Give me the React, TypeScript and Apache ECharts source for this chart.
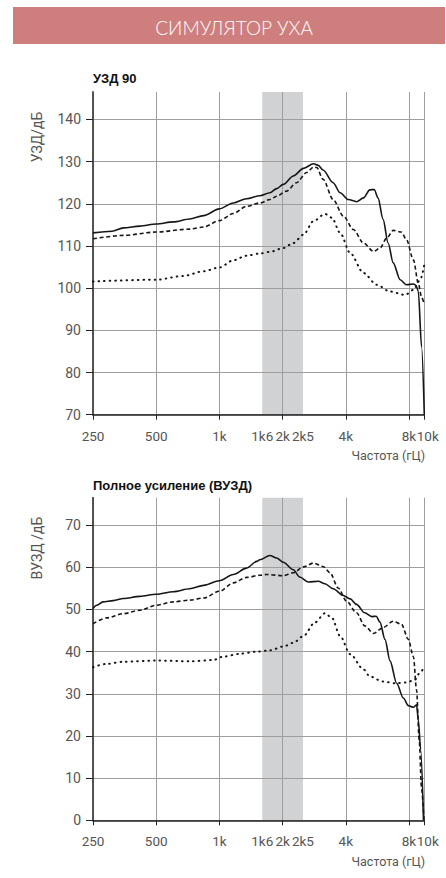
import { useEffect, useRef } from "react";
import * as echarts from "echarts";

// ---- axis definitions ----
const F_MIN = 250;
const F_MAX = 9462; // right edge, labelled "10k"
const TICK_FREQS = [250, 500, 1000, 2000, 4000, 8000, 9462];
const LABEL_FREQS = [250, 500, 1000, 1600, 2000, 2500, 4000, 8000];
const LABEL_TEXTS = ["250", "500", "1k", "1k6", "2k", "2k5", "4k", "8k"];
const EDGE_LABEL = "10k";
const BAND_FREQS = [1600, 2500];
const SPL_TICKS = [70, 80, 90, 100, 110, 120, 130, 140];
const GAIN_TICKS = [0, 10, 20, 30, 40, 50, 60, 70];

// ---- chart 1: УЗД 90 ----
const splSolidF = [250, 308, 349, 418, 500, 603, 722, 841, 1000, 1165, 1347, 1558, 1741, 1874, 2014, 2250, 2514, 2809, 2959, 3117, 3482, 3758, 4113, 4500, 4856, 5205, 5464, 5696, 6021, 6364, 6727, 7260, 7781, 8397, 8633, 8857, 9187, 9462];
const splSolidV = [113.1, 113.5, 114.3, 114.7, 115.2, 115.7, 116.4, 117.2, 118.8, 120.2, 121.2, 121.9, 122.6, 123.6, 124.6, 126.6, 128.4, 129.5, 129.1, 128.0, 125.0, 122.6, 121.0, 120.5, 121.4, 123.3, 123.4, 121.4, 116.3, 110.7, 106.0, 102.0, 100.8, 101.0, 100.7, 99.3, 86.0, 70.0];

const splDashF = [250, 349, 500, 722, 841, 1000, 1165, 1347, 1558, 1741, 1874, 2085, 2330, 2603, 2809, 2908, 3117, 3482, 3891, 4347, 4856, 5426, 5816, 6276, 6727, 7362, 7781, 8397, 8875, 9187, 9462];
const splDashV = [111.7, 112.5, 113.3, 114.0, 114.5, 116.0, 117.7, 119.4, 120.2, 121.0, 121.8, 123.0, 125.0, 127.4, 128.7, 128.6, 125.8, 121.0, 117.1, 113.9, 110.7, 108.7, 109.5, 111.9, 113.7, 113.3, 111.5, 106.7, 101.0, 97.8, 96.2];

const splDotF = [250, 500, 674, 841, 1000, 1165, 1347, 1558, 1741, 2014, 2250, 2514, 2809, 3182, 3434, 3758, 4199, 4856, 5618, 6498, 7674, 8397, 9061, 9462];
const splDotV = [101.6, 102.0, 102.9, 104.0, 104.9, 106.6, 107.7, 108.2, 108.6, 109.5, 110.7, 112.7, 115.9, 117.6, 116.7, 113.1, 108.3, 103.6, 100.8, 99.2, 98.4, 99.6, 102.0, 105.6];

// ---- chart 2: Полное усиление (ВУЗД) ----
const gainSolidF = [250, 260, 279, 312, 349, 418, 500, 603, 722, 841, 1000, 1165, 1347, 1505, 1558, 1741, 1874, 2014, 2250, 2412, 2658, 2959, 3182, 3482, 3891, 4199, 4500, 4925, 5315, 5579, 5816, 6148, 6498, 6988, 7517, 7944, 8397, 8693, 8857, 9092, 9380];
const gainSolidV = [50.2, 51.0, 51.8, 52.1, 52.6, 53.1, 53.6, 54.2, 54.9, 55.7, 56.8, 58.3, 59.8, 61.4, 61.8, 62.8, 62.2, 61.2, 59.4, 57.7, 56.5, 56.7, 56.1, 54.9, 53.3, 52.5, 51.2, 49.2, 48.3, 48.4, 47.0, 42.9, 37.8, 32.5, 29.0, 27.2, 26.8, 27.4, 23.9, 16.8, 0.0];

const gainDashF = [250, 291, 349, 418, 500, 603, 722, 841, 1000, 1165, 1347, 1558, 1682, 2014, 2250, 2514, 2809, 3117, 3364, 3681, 4028, 4500, 4925, 5426, 6021, 6727, 7362, 7944, 8397, 8693, 8945, 9187, 9430];
const gainDashV = [46.6, 48.0, 49.0, 49.8, 51.0, 51.8, 52.2, 52.7, 54.3, 56.3, 57.6, 58.1, 58.3, 58.0, 58.7, 60.1, 61.0, 60.2, 58.7, 55.1, 52.0, 49.2, 46.1, 44.3, 45.7, 47.2, 46.5, 42.9, 38.8, 30.9, 19.1, 7.3, 0.0];

const gainDotF = [250, 291, 349, 500, 722, 933, 1042, 1257, 1505, 1741, 2014, 2250, 2514, 2848, 3182, 3434, 3758, 4199, 4856, 5205, 6021, 6868, 7781, 8514, 8999, 9462];
const gainDotV = [36.3, 37.1, 37.6, 37.9, 37.7, 38.0, 38.8, 39.5, 40.0, 40.3, 41.2, 42.1, 43.7, 46.9, 49.1, 48.0, 43.7, 39.4, 35.8, 34.1, 32.9, 32.5, 32.7, 33.3, 34.9, 36.5];

const oct = (f: number) => Math.log2(f / F_MIN);

const NARROW = '"Liberation Sans Narrow", "Roboto", "Liberation Sans", sans-serif';
const BOLD = '"Liberation Sans", Arial, sans-serif';
const GRID_C = "#9e9e9e";
const AXIS_C = "#222";
const LABEL_C = "#555";
const INK = "#161616";
const TICK_FONT = 13.5;

const GRIDS = [
  { left: 93, top: 92, width: 331.3, height: 322.7 },
  { left: 93, top: 497.7, width: 331.3, height: 322.6 },
];

function xLabel(v: number) {
  for (let i = 0; i < LABEL_FREQS.length; i++) {
    if (Math.abs(oct(LABEL_FREQS[i]) - v) < 1e-6) return LABEL_TEXTS[i];
  }
  return "";
}

function xAxisFor(gi: number) {
  return {
    type: "value",
    gridIndex: gi,
    position: "bottom",
    min: 0,
    max: oct(F_MAX),
    axisLine: { show: true, onZero: false, lineStyle: { color: AXIS_C, width: 1.5 } },
    axisTick: { show: true, length: 5, customValues: TICK_FREQS.map(oct), lineStyle: { color: AXIS_C, width: 1 } },
    axisLabel: {
      customValues: LABEL_FREQS.map(oct),
      formatter: (v: number) => xLabel(v),
      showMinLabel: true,
      hideOverlap: false,
      color: LABEL_C,
      fontSize: TICK_FONT,
      fontFamily: NARROW,
      margin: 14,
    },
    splitLine: { show: true, lineStyle: { color: GRID_C, width: 1 } },
  };
}

// second bottom axis only carrying the right-edge "10k" label
function xEdgeAxisFor(gi: number) {
  return {
    type: "value",
    gridIndex: gi,
    position: "bottom",
    min: 0,
    max: oct(F_MAX),
    axisLine: { show: false, onZero: false },
    axisTick: { show: false },
    axisLabel: {
      customValues: [oct(F_MAX)],
      formatter: () => "{e|" + EDGE_LABEL + "}",
      showMaxLabel: true,
      color: LABEL_C,
      fontSize: TICK_FONT,
      fontFamily: NARROW,
      margin: 14,
      rich: { e: { padding: [0, 0, 0, 7], fontSize: TICK_FONT, fontFamily: NARROW, color: LABEL_C } },
    },
    splitLine: { show: false },
  };
}

function yAxisFor(gi: number, min: number, max: number, ticks: number[]) {
  return {
    type: "value",
    gridIndex: gi,
    min,
    max,
    interval: 10,
    axisLine: { show: true, lineStyle: { color: AXIS_C, width: 1.5 } },
    axisTick: { show: true, length: 7, customValues: ticks, lineStyle: { color: AXIS_C, width: 1 } },
    axisLabel: { customValues: ticks, color: LABEL_C, fontSize: 14, fontFamily: NARROW, margin: 12 },
    splitLine: { show: true, lineStyle: { color: GRID_C, width: 1 } },
  };
}

function edgeAxis(gi: number, min: number, max: number) {
  return {
    type: "value",
    gridIndex: gi,
    position: "right",
    min,
    max,
    axisLine: { show: true, lineStyle: { color: "#555", width: 1.5 } },
    axisTick: { show: false },
    axisLabel: { show: false },
    splitLine: { show: false },
  };
}

type Kind = "solid" | "dash" | "dot";
function lineSeries(name: string, fs: number[], vs: number[], kind: Kind, gi: number) {
  const style: any = { color: INK, width: 1.6 };
  if (kind === "dash") {
    style.type = [4, 2.7];
  } else if (kind === "dot") {
    style.type = [0.6, 5];
    style.cap = "round";
    style.width = 2;
  }
  return {
    type: "line",
    name,
    xAxisIndex: gi,
    yAxisIndex: gi,
    data: fs.map((f, i) => [oct(f), vs[i]]),
    showSymbol: false,
    symbol: "none",
    smooth: 0.3,
    smoothMonotone: "x",
    lineStyle: style,
    z: 3,
  };
}

function bandSeries(gi: number) {
  return {
    type: "line",
    name: "band" + gi,
    xAxisIndex: gi,
    yAxisIndex: gi,
    data: [],
    z: -1,
    silent: true,
    markArea: {
      silent: true,
      z: -1,
      itemStyle: { color: "#d1d2d4" },
      data: [[{ xAxis: oct(BAND_FREQS[0]) }, { xAxis: oct(BAND_FREQS[1]) }]],
    },
  };
}

export default function App() {
  const ref = useRef<HTMLDivElement>(null);
  useEffect(() => {
    if (!ref.current) return;
    const chart = echarts.init(ref.current, null, { renderer: "svg" });
    chart.setOption({
      animation: false,
      grid: GRIDS.map((g) => ({ ...g, containLabel: false })),
      xAxis: [xAxisFor(0), xAxisFor(1), xEdgeAxisFor(0), xEdgeAxisFor(1)],
      yAxis: [
        yAxisFor(0, 70, 146.5, SPL_TICKS),
        yAxisFor(1, 0, 76.5, GAIN_TICKS),
        edgeAxis(0, 70, 146.5),
        edgeAxis(1, 0, 76.5),
      ],
      series: [
        bandSeries(0),
        bandSeries(1),
        lineSeries("УЗД 90 1", splSolidF, splSolidV, "solid", 0),
        lineSeries("УЗД 90 2", splDashF, splDashV, "dash", 0),
        lineSeries("УЗД 90 3", splDotF, splDotV, "dot", 0),
        lineSeries("ВУЗД 1", gainSolidF, gainSolidV, "solid", 1),
        lineSeries("ВУЗД 2", gainDashF, gainDashV, "dash", 1),
        lineSeries("ВУЗД 3", gainDotF, gainDotV, "dot", 1),
      ],
      graphic: [
        { type: "rect", shape: { x: 13, y: 7, width: 432, height: 37 }, style: { fill: "#cd7e7d" }, silent: true },
        {
          type: "text",
          x: 234,
          y: 27,
          style: { text: "СИМУЛЯТОР УХА", fill: "#fff", fontSize: 19, fontFamily: "Lato, sans-serif", fontWeight: 300, align: "center", verticalAlign: "middle" },
        },
        { type: "text", x: 93, y: 78, style: { text: "УЗД 90", fill: "#111", fontSize: 13, fontWeight: "bold", fontFamily: BOLD, align: "left", verticalAlign: "middle" } },
        { type: "text", x: 93, y: 485, style: { text: "Полное усиление (ВУЗД)", fill: "#111", fontSize: 13, fontWeight: "bold", fontFamily: BOLD, align: "left", verticalAlign: "middle" } },
        { type: "text", x: 37, y: 137, rotation: Math.PI / 2, style: { text: "УЗД/дБ", fill: LABEL_C, fontSize: 14, fontFamily: NARROW, align: "center", verticalAlign: "middle" } },
        { type: "text", x: 37, y: 548, rotation: Math.PI / 2, style: { text: "ВУЗД /дБ", fill: LABEL_C, fontSize: 14, fontFamily: NARROW, align: "center", verticalAlign: "middle" } },
        { type: "text", x: 425, y: 455, style: { text: "Частота (гЦ)", fill: LABEL_C, fontSize: 12.5, fontFamily: NARROW, align: "right", verticalAlign: "middle" } },
        { type: "text", x: 425, y: 861, style: { text: "Частота (гЦ)", fill: LABEL_C, fontSize: 12.5, fontFamily: NARROW, align: "right", verticalAlign: "middle" } },
      ],
    });
    return () => chart.dispose();
  }, []);
  return <div ref={ref} style={{ position: "absolute", left: 0, top: 0, width: 446, height: 878 }} />;
}
